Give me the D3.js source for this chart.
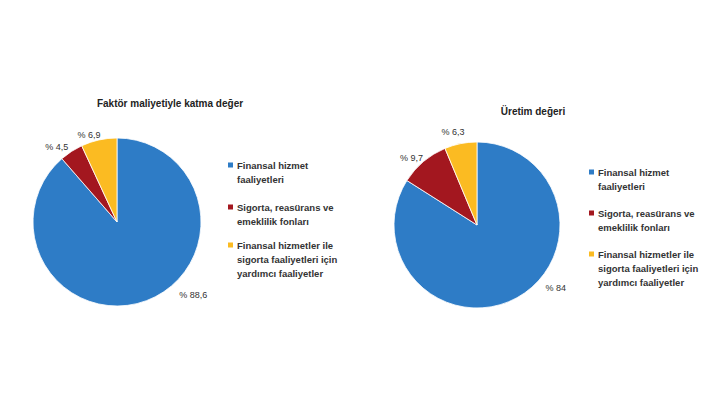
<!DOCTYPE html>
<html><head><meta charset="utf-8">
<script src="https://cdn.jsdelivr.net/npm/d3@7"></script>
<style>body{margin:0;background:#fff}</style></head>
<body><svg id="c" width="728" height="410"></svg>
<script>
const categories = ["Finansal hizmet faaliyetleri","Sigorta, reasürans ve emeklilik fonları","Finansal hizmetler ile sigorta faaliyetleri için yardımcı faaliyetler"];
const legendLines = [["Finansal hizmet","faaliyetleri"],["Sigorta, reasürans ve","emeklilik fonları"],["Finansal hizmetler ile","sigorta faaliyetleri için","yardımcı faaliyetler"]];
const leftValues = [88.6, 4.5, 6.9];
const rightValues = [84, 9.7, 6.3];
const leftLabels = ["% 88,6","% 4,5","% 6,9"];
const rightLabels = ["% 84","% 9,7","% 6,3"];
const colors = ["#2E7CC6","#A3171F","#FBBB22"];
const svg = d3.select("#c");
const font = "Liberation Sans, Arial, sans-serif";
function chart(cfg){
  const g = svg.append("g").attr("transform",`translate(${cfg.cx},${cfg.cy})`);
  const pie = d3.pie().sort(null).value(d=>d);
  const arc = d3.arc().innerRadius(0).outerRadius(cfg.r);
  const lab = d3.arc().innerRadius(cfg.r+14).outerRadius(cfg.r+14);
  const arcs = pie(cfg.values);
  g.selectAll("path").data(arcs).join("path").attr("d",arc).attr("fill",(d,i)=>colors[i])
    .attr("stroke","#fff").attr("stroke-width",0.8);
  g.selectAll("text").data(arcs).join("text")
    .attr("transform",(d,i)=>{const p=lab.centroid(d); return `translate(${p[0]+cfg.off[i][0]},${p[1]+cfg.off[i][1]})`;})
    .attr("text-anchor","middle").attr("dominant-baseline","middle")
    .attr("font-family",font).attr("font-size",9).attr("fill","#333")
    .text((d,i)=>cfg.labels[i]);
  svg.append("text").attr("x",cfg.tx).attr("y",cfg.ty).attr("text-anchor","middle")
    .attr("font-family",font).attr("font-size",10).attr("font-weight","bold").attr("fill","#222").text(cfg.title);
  const lg = svg.append("g");
  legendLines.forEach((lines,i)=>{
    const y = cfg.ly[i];
    lg.append("rect").attr("x",cfg.lx).attr("y",y-3.5).attr("width",5).attr("height",5).attr("fill",colors[i]);
    lines.forEach((t,j)=>lg.append("text").attr("x",cfg.lx+9).attr("y",y+j*14).attr("dominant-baseline","middle")
      .attr("font-family",font).attr("font-size",9.5).attr("font-weight","bold").attr("fill","#333").text(t));
  });
}
chart({cx:117,cy:222,r:84,values:leftValues,labels:leftLabels,title:"Faktör maliyetiyle katma değer",tx:170,ty:107,
  lx:228,ly:[166,208,246],off:[[42,-18],[-7,8],[-7,9]]});
chart({cx:477,cy:225,r:83,values:rightValues,labels:rightLabels,title:"Üretim değeri",tx:533,ty:115,
  lx:589,ly:[173,214,255],off:[[32,-21],[-3,8],[-5,3]]});
</script></body></html>
